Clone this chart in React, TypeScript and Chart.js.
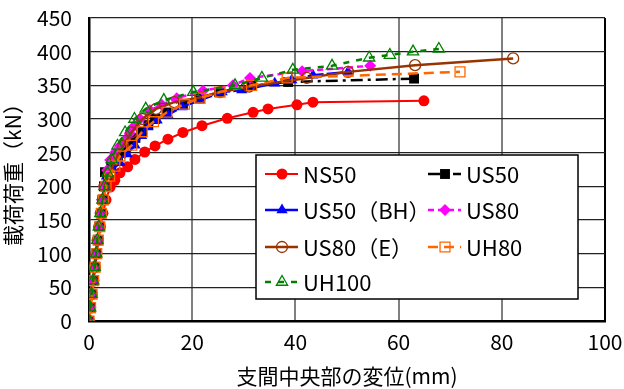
import React, { useEffect, useRef } from 'react';
import { Chart, registerables } from 'chart.js';
import { drawPoint } from 'chart.js/helpers';
Chart.register(...registerables);

const FONT = '"Noto Sans CJK JP", "Noto Sans", sans-serif';

const X_MIN = 0, X_MAX = 100, X_STEP = 20;
const Y_MIN = 0, Y_MAX = 450, Y_STEP = 50;
const xTitle = '支間中央部の変位(mm)';
const yTitle = '載荷荷重（kN）';

const seriesNames = ['NS50', 'US50', 'US50（BH）', 'US80', 'US80（E）', 'UH80', 'UH100'];

const ns50: number[][] = [
  [0, 0], [0.3, 20], [0.6, 40], [0.9, 60], [1.2, 80], [1.5, 100], [1.8, 120], [2.2, 140], [2.7, 160],
  [3.3, 180], [4.1, 199], [5.0, 209], [6.0, 220], [7.5, 229], [8.9, 240], [10.8, 251], [12.8, 260],
  [15.3, 270], [18.2, 280], [21.9, 290], [26.8, 301], [31.8, 310], [34.7, 315], [40.3, 321],
  [43.4, 325], [64.9, 327],
];
const us50: number[][] = [
  [0, 0], [0.2, 20], [0.5, 40], [0.8, 60], [1.1, 80], [1.4, 100], [1.7, 120], [2.0, 140], [2.3, 160],
  [2.6, 180], [2.9, 200], [3.1, 221], [4.3, 232], [5.6, 242], [6.7, 253], [7.9, 264], [9.0, 272],
  [10.3, 281], [11.5, 291], [12.8, 300], [15.1, 310], [18.2, 321], [21.5, 331], [25.2, 340],
  [31.4, 349], [38.6, 355], [63.0, 360],
];
const us50bh: number[][] = [
  [0, 0], [0.2, 20], [0.5, 40], [0.8, 60], [1.1, 80], [1.4, 100], [1.7, 120], [2.0, 140], [2.3, 160],
  [2.7, 180], [3.0, 200], [3.4, 215], [4.5, 225], [6.0, 235], [7.4, 248], [8.9, 261], [10.2, 275],
  [11.4, 288], [13.2, 298], [15.3, 306], [18.0, 318], [21.5, 328], [25.8, 340], [29.6, 343],
  [36.0, 353], [39.3, 358], [43.4, 365], [50.2, 370],
];
const us80: number[][] = [
  [0, 0], [0.2, 20], [0.4, 40], [0.7, 60], [1.0, 80], [1.3, 100], [1.6, 120], [1.9, 140], [2.2, 160],
  [2.5, 180], [2.9, 200], [3.5, 224], [4.1, 239], [5.0, 250], [6.0, 260], [7.0, 269], [7.9, 279],
  [8.8, 290], [9.9, 300], [11.8, 313], [14.1, 321], [17.0, 331], [22.1, 342], [27.9, 350],
  [31.2, 361], [41.3, 371], [54.5, 379],
];
const us80e: number[][] = [
  [0, 0], [0.2, 20], [0.5, 40], [0.8, 60], [1.1, 80], [1.4, 100], [1.7, 120], [2.0, 140], [2.3, 160],
  [2.7, 180], [3.0, 200], [4.0, 220], [5.2, 240], [6.6, 260], [8.2, 280], [10.3, 300], [13.0, 315],
  [16.5, 325], [21.5, 332], [25.4, 340], [31.0, 348], [42.2, 361], [50.2, 370], [63.2, 380],
  [82.2, 390],
];
const uh80: number[][] = [
  [0, 0], [0.3, 20], [0.6, 40], [0.9, 60], [1.2, 80], [1.5, 100], [1.8, 120], [2.1, 140], [2.4, 160],
  [2.8, 180], [3.3, 200], [4.0, 215], [5.0, 230], [6.0, 245], [8.3, 261], [10.3, 281], [12.5, 296],
  [15.1, 310], [18.5, 322], [21.5, 331], [25.4, 340], [31.5, 350], [38.4, 361], [71.9, 370],
];
const uh100: number[][] = [
  [0, 0], [0.2, 20], [0.5, 40], [0.8, 60], [1.1, 80], [1.4, 100], [1.6, 120], [1.9, 140], [2.2, 160],
  [2.6, 180], [3.0, 200], [3.6, 220], [4.4, 240], [5.5, 260], [7.0, 280], [8.8, 300], [11.0, 315],
  [14.5, 328], [20.2, 340], [28.3, 350], [33.5, 361], [39.5, 373], [47.1, 379], [54.3, 391],
  [58.3, 395], [62.8, 400], [67.8, 404],
];

const seriesData = [ns50, us50, us50bh, us80, us80e, uh80, uh100];
const colors = ['#FF0000', '#000000', '#0000FF', '#FF00FF', '#993300', '#FF6600', '#008000'];
const styles = ['circle', 'rect', 'triangle', 'rectRot', 'circle', 'rect', 'triangle'];
const filled = [true, true, true, true, false, false, false];
const radii = [5.5, 7, 6.5, 6, 5.5, 7, 6.5];
const dashes: number[][] = [[], [12, 5, 3, 5], [16, 3], [6, 4], [], [10, 6], [6, 7]];
const widths = [2, 2.5, 2.5, 2.5, 2.5, 2.5, 2.5];

const legendPlugin = {
  id: 'boxLegend',
  afterDraw(chart: any) {
    const ctx = chart.ctx;
    const ca = chart.chartArea;
    const bx = ca.left + 167, by = ca.top + 137, bw = 322, bh = 144;
    ctx.save();
    ctx.fillStyle = '#fff';
    ctx.fillRect(bx, by, bw, bh);
    ctx.strokeStyle = '#000';
    ctx.lineWidth = 1.5;
    ctx.strokeRect(bx, by, bw, bh);
    const colX = [bx + 9, bx + 172];
    const rowY = [by + 19, by + 55, by + 92, by + 127];
    chart.data.datasets.forEach((ds: any, i: number) => {
      const cx = colX[i % 2];
      const cy = rowY[Math.floor(i / 2)];
      ctx.save();
      ctx.strokeStyle = ds.borderColor;
      ctx.lineWidth = ds.borderWidth;
      ctx.setLineDash(ds.borderDash || []);
      ctx.beginPath();
      ctx.moveTo(cx, cy);
      ctx.lineTo(cx + 33, cy);
      ctx.stroke();
      ctx.setLineDash([]);
      ctx.fillStyle = ds.pointBackgroundColor;
      ctx.strokeStyle = ds.pointBorderColor;
      ctx.lineWidth = ds.pointBorderWidth;
      drawPoint(ctx, { pointStyle: ds.pointStyle, rotation: 0, radius: ds.pointRadius, borderWidth: ds.pointBorderWidth }, cx + 17, cy);
      ctx.restore();
      ctx.fillStyle = '#000';
      ctx.font = `22px ${FONT}`;
      ctx.textBaseline = 'middle';
      ctx.textAlign = 'left';
      ctx.fillText(ds.label, cx + 38, cy + 1);
    });
    ctx.restore();
  },
};

export default function App() {
  const ref = useRef<HTMLCanvasElement>(null);
  useEffect(() => {
    if (!ref.current) return;
    const datasets = seriesData.map((d, i) => ({
      label: seriesNames[i],
      data: d.map(([x, y]) => ({ x, y })),
      showLine: true,
      borderColor: colors[i],
      borderWidth: widths[i],
      borderDash: dashes[i],
      pointStyle: styles[i],
      pointRadius: radii[i],
      pointBackgroundColor: filled[i] ? colors[i] : 'rgba(255,255,255,0)',
      pointBorderColor: colors[i],
      pointBorderWidth: filled[i] ? 0 : 1.3,
      order: seriesData.length - i,
      tension: 0,
    }));
    const chart = new Chart(ref.current, {
      type: 'scatter',
      data: { datasets },
      plugins: [legendPlugin],
      options: {
        animation: false,
        responsive: false,
        layout: { padding: { top: 18, right: 19, left: 0, bottom: 0 } },
        plugins: { legend: { display: false }, tooltip: { enabled: false } },
        scales: {
          x: {
            type: 'linear', min: X_MIN, max: X_MAX,
            ticks: { stepSize: X_STEP, font: { family: FONT, size: 21 }, color: '#000', padding: 8 },
            grid: {
              color: (c: any) => (c.tick && c.tick.value === X_MAX ? '#000' : '#808080'),
              lineWidth: 2, drawTicks: false,
            },
            border: { color: '#000', width: 2.5 },
            title: { display: true, text: xTitle, font: { family: FONT, size: 21 }, color: '#000', padding: 0 },
            afterFit: (s: any) => { s.height = 68; s.paddingLeft = 0; s.paddingRight = 0; },
          },
          y: {
            type: 'linear', min: Y_MIN, max: Y_MAX,
            ticks: { stepSize: Y_STEP, font: { family: FONT, size: 21 }, color: '#000', padding: 17 },
            grid: { color: '#222', lineWidth: 1.2, drawTicks: false },
            border: { color: '#000', width: 2.5 },
            title: { display: true, text: yTitle, font: { family: FONT, size: 21 }, color: '#000', padding: 0 },
            afterFit: (s: any) => { s.width = 89; s.paddingTop = 0; s.paddingBottom = 0; },
          },
        },
      },
    } as any);
    return () => chart.destroy();
  }, []);
  return (
    <div style={{ position: 'absolute', left: 0, top: 0, width: 624, height: 389, background: '#fff' }}>
      <canvas ref={ref} width={624} height={389} />
    </div>
  );
}
